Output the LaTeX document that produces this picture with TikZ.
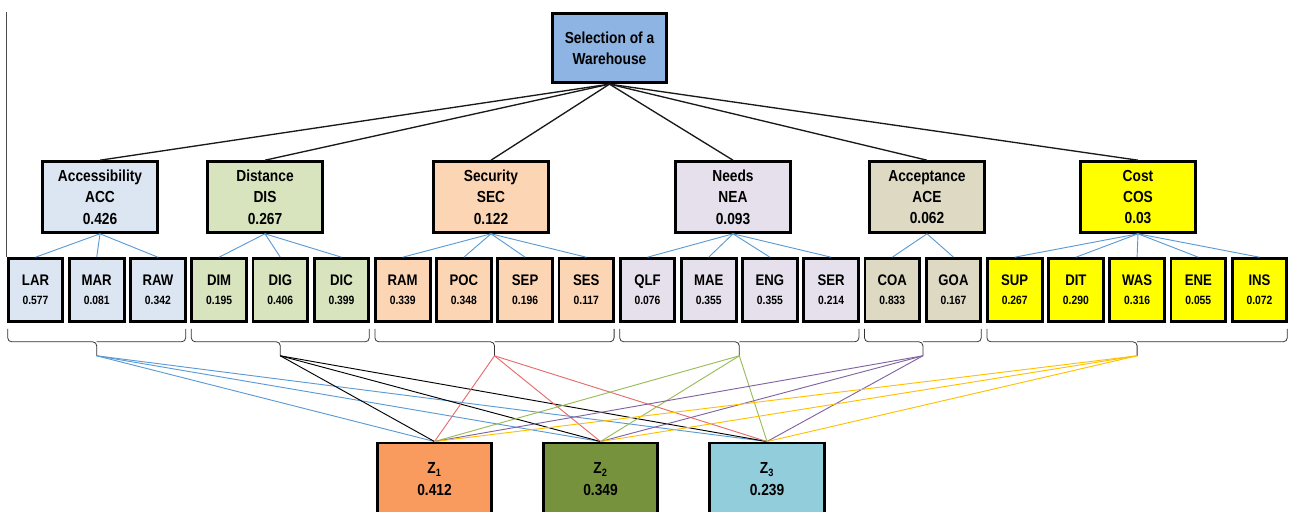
\documentclass[tikz,border=0pt]{standalone}
\usepackage{fontspec}
\setmainfont{Liberation Sans}[FakeStretch=0.86]
\usepackage{tikz}
\usetikzlibrary{positioning, calc}
\definecolor{goalfill}{HTML}{8DB4E2}
\definecolor{accfill}{HTML}{DCE6F2}
\definecolor{disfill}{HTML}{D7E4BD}
\definecolor{secfill}{HTML}{FCD5B5}
\definecolor{neafill}{HTML}{E6E0EC}
\definecolor{acefill}{HTML}{DDD9C3}
\definecolor{cosfill}{HTML}{FFFF00}
\definecolor{zonefill}{HTML}{F99B5F}
\definecolor{ztwofill}{HTML}{76923C}
\definecolor{zthreefill}{HTML}{92CDDC}
\definecolor{fanblue}{HTML}{5B9BD5}
\definecolor{fanred}{HTML}{E46C6C}
\definecolor{fangreen}{HTML}{9BBB59}
\definecolor{fanpurple}{HTML}{8064A2}
\definecolor{fangold}{HTML}{FFC000}

\begin{document}
\begin{tikzpicture}[x=0.75pt, y=-0.75pt,
  box/.style={draw, line width=2.2pt, align=center, inner sep=0pt,
    font=\bfseries\fontsize{12}{16}\selectfont},
  crit/.style={box, minimum width=86pt, minimum height=53pt},
  sub/.style={box, minimum width=41pt, minimum height=47pt,
    font=\bfseries\fontsize{11.5}{13}\selectfont},
  alt/.style={box, minimum width=86pt, minimum height=54pt},
  link/.style={black!90, line width=1pt},
  twig/.style={fanblue, line width=0.7pt},
  bracket/.style={black!80, line width=0.6pt, rounded corners=3pt},
  fan/.style={line width=0.7pt}]
  \clip (0,0) rectangle (1290,511);
  % --- goal ---
  \node[box, minimum width=86pt, minimum height=52pt, fill=goalfill] (goal) at (609.5,48)
    {Selection of a\\Warehouse};
  % --- criteria ---
  \foreach \title/\id/\w/\col/\x in {Accessibility/ACC/0.426/accfill/100, Distance/DIS/0.267/disfill/265,
      Security/SEC/0.122/secfill/491, Needs/NEA/0.093/neafill/733,
      Acceptance/ACE/0.062/acefill/927, Cost/COS/0.03/cosfill/1138} {
    \node[crit, fill=\col] (\id) at (\x,197) {\title\\\id\\\w};
    \draw[link] (goal.south) -- (\id.north);
  }
  % --- sub-criteria ---
  \foreach \id/\w/\col [count=\i from 0] in {LAR/0.577/accfill, MAR/0.081/accfill, RAW/0.342/accfill,
      DIM/0.195/disfill, DIG/0.406/disfill, DIC/0.399/disfill,
      RAM/0.339/secfill, POC/0.348/secfill, SEP/0.196/secfill, SES/0.117/secfill,
      QLF/0.076/neafill, MAE/0.355/neafill, ENG/0.355/neafill, SER/0.214/neafill,
      COA/0.833/acefill, GOA/0.167/acefill,
      SUP/0.267/cosfill, DIT/0.290/cosfill, WAS/0.316/cosfill, ENE/0.055/cosfill, INS/0.072/cosfill} {
    \node[sub, fill=\col] (\id) at (35.5+61.2*\i,290) {\id\\[1pt]{\fontsize{9}{11}\selectfont\w}};
  }
  \foreach \c/\kids in {ACC/{LAR,MAR,RAW}, DIS/{DIM,DIG,DIC}, SEC/{RAM,POC,SEP,SES},
      NEA/{QLF,MAE,ENG,SER}, ACE/{COA,GOA}, COS/{SUP,DIT,WAS,ENE,INS}} {
    \foreach \s in \kids
      \draw[twig] (\c.south) -- (\s.north);
  }
  \draw[black!70, line width=1.1pt] (LAR.north west |- 0,12) -- (LAR.north west);
  % --- brackets under each group ---
  \foreach \a/\b/\t in {LAR/RAW/tACC, DIM/DIC/tDIS, RAM/SES/tSEC, QLF/SER/tNEA, COA/GOA/tACE, SUP/INS/tCOS} {
    \coordinate (\t) at ($(\a.south west)!0.5!(\b.south east)+(0,33)$);
    \draw[bracket] ($(\a.south west)+(1,6)$) |- ($(\t)+(0,-14)$) -- (\t);
    \draw[bracket] ($(\b.south east)+(-1,6)$) |- ($(\t)+(0,-14)$);
  }
  % --- alternatives ---
  \node[alt, fill=zonefill] (Z1) at (434.5,479) {Z\textsubscript{1}\\0.412};
  \node[alt, fill=ztwofill] (Z2) at (600.5,479) {Z\textsubscript{2}\\0.349};
  \node[alt, fill=zthreefill] (Z3) at (767,479) {Z\textsubscript{3}\\0.239};
  \foreach \t/\col in {tACC/fanblue, tDIS/black, tSEC/fanred, tNEA/fangreen, tACE/fanpurple, tCOS/fangold}
    \foreach \z in {Z1,Z2,Z3}
      \draw[fan, draw=\col] (\t) -- (\z.north);
\end{tikzpicture}
\end{document}
